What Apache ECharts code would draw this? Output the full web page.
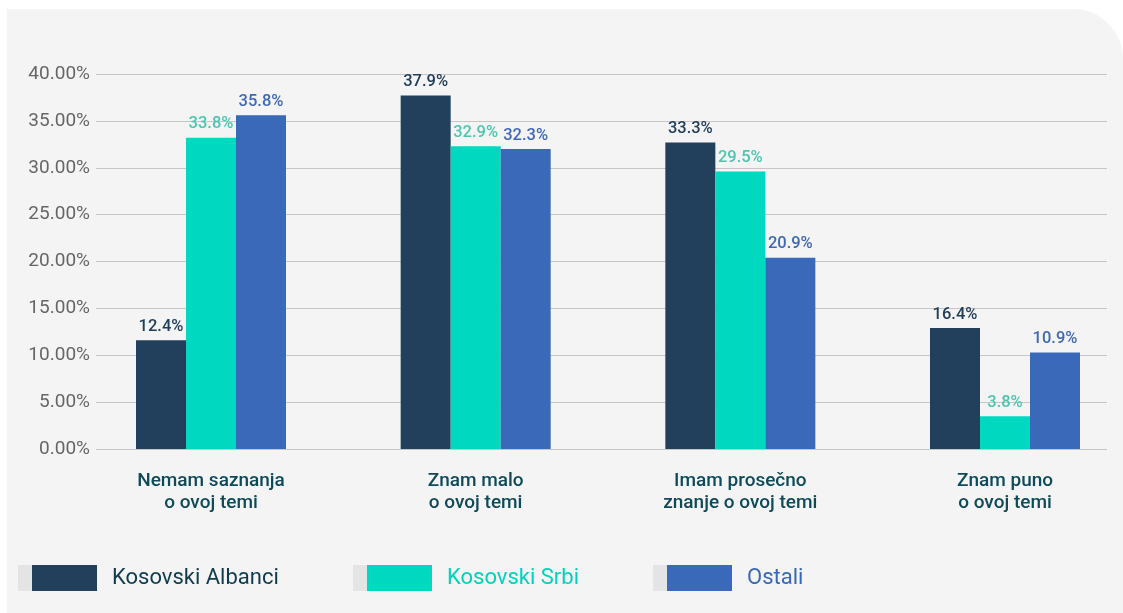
<!DOCTYPE html>
<html>
<head>
<meta charset="utf-8">
<script src="https://cdn.jsdelivr.net/npm/echarts/dist/echarts.min.js"></script>
<style>
  html, body { margin: 0; padding: 0; background: #ffffff; }
  #chart { width: 1123px; height: 613px; }
</style>
</head>
<body>
<div id="chart"></div>
<script>
// ---- Data ----
const categories = ['Nemam saznanja\no ovoj temi', 'Znam malo\no ovoj temi', 'Imam prosečno\nznanje o ovoj temi', 'Znam puno\no ovoj temi'];
const seriesNames = ['Kosovski Albanci', 'Kosovski Srbi', 'Ostali'];
// bar heights as drawn (%)
const albanci = [11.6, 37.7, 32.7, 12.9];
const srbi = [33.2, 32.3, 29.6, 3.5];
const ostali = [35.6, 32.0, 20.4, 10.3];
// value labels as printed
const albanciLabels = ['12.4%', '37.9%', '33.3%', '16.4%'];
const srbiLabels = ['33.8%', '32.9%', '29.5%', '3.8%'];
const ostaliLabels = ['35.8%', '32.3%', '20.9%', '10.9%'];
// y axis
const yMin = 0, yMax = 40, yStep = 5;

const FONT = 'Roboto';
const barColors = ['#223f5b', '#00d8c0', '#3a69b9'];
const labelColors = ['#203e5a', '#4cc6b0', '#3f69b6'];
const legendTextColors = ['#0f3b4c', '#00d3bb', '#3a68b8'];

const chart = echarts.init(document.getElementById('chart'), null, { renderer: 'canvas' });

function mkSeries(name, data, labels, i) {
  return {
    name: name,
    type: 'bar',
    xAxisIndex: 1,
    yAxisIndex: 1,
    data: data,
    barWidth: 50,
    barGap: '0%',
    itemStyle: { color: barColors[i] },
    label: {
      show: true,
      position: 'top',
      distance: 5,
      color: labelColors[i],
      fontFamily: FONT,
      fontSize: 16.5,
      fontWeight: 500,
      formatter: p => labels[p.dataIndex]
    }
  };
}

function mkLegend(i, left) {
  return {
    show: true,
    left: left,
    top: 565,
    padding: 0,
    itemWidth: 65,
    itemHeight: 26,
    icon: 'rect',
    selectedMode: false,
    data: [{ name: seriesNames[i], textStyle: { color: legendTextColors[i] } }],
    textStyle: { fontFamily: FONT, fontSize: 22, fontWeight: 400, padding: [0, 0, 0, 10] }
  };
}

const option = {
  backgroundColor: '#ffffff',
  animation: false,
  graphic: [
    { type: 'rect', z: -10, shape: { x: 7, y: 9, width: 1116, height: 610, r: [0, 50, 0, 0] }, style: { fill: '#f4f4f4' } },
    { type: 'rect', z: 10, shape: { x: 18, y: 565, width: 14, height: 26 }, style: { fill: '#e4e4e4' } },
    { type: 'rect', z: 10, shape: { x: 353, y: 565, width: 14, height: 26 }, style: { fill: '#e4e4e4' } },
    { type: 'rect', z: 10, shape: { x: 653, y: 565, width: 14, height: 26 }, style: { fill: '#e4e4e4' } }
  ],
  legend: [mkLegend(0, 32), mkLegend(1, 367), mkLegend(2, 667)],
  grid: [
    { left: 96, right: 16, top: 74, height: 375 },
    { left: 211, right: 118, top: 74, height: 375 }
  ],
  xAxis: [
    { type: 'category', gridIndex: 0, data: categories, show: false },
    {
      type: 'category', gridIndex: 1, data: categories, boundaryGap: false,
      axisLine: { show: false }, axisTick: { show: false },
      axisLabel: {
        margin: 21,
        color: '#0e4a5a',
        fontFamily: FONT,
        fontSize: 19,
        fontWeight: 500,
        lineHeight: 22,
        interval: 0
      }
    }
  ],
  yAxis: [
    {
      type: 'value', gridIndex: 0, min: yMin, max: yMax, interval: yStep,
      axisLine: { show: false }, axisTick: { show: false },
      splitLine: { show: true, lineStyle: { color: '#c6c6c6', width: 1.2 } },
      axisLabel: {
        margin: 6,
        color: '#666666',
        fontFamily: FONT,
        fontSize: 19,
        formatter: v => v.toFixed(2) + '%'
      }
    },
    {
      type: 'value', gridIndex: 1, min: yMin, max: yMax, interval: yStep, show: false,
      splitLine: { show: false }
    }
  ],
  series: [
    mkSeries(seriesNames[0], albanci, albanciLabels, 0),
    mkSeries(seriesNames[1], srbi, srbiLabels, 1),
    mkSeries(seriesNames[2], ostali, ostaliLabels, 2)
  ]
};

chart.setOption(option);
</script>
</body>
</html>
